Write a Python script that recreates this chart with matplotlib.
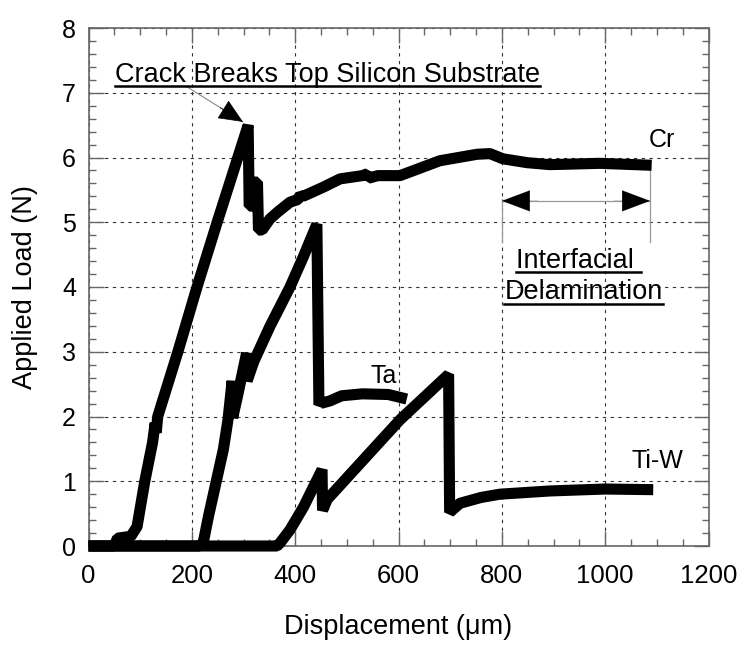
import matplotlib
matplotlib.use("Agg")
import matplotlib.pyplot as plt
from matplotlib.lines import Line2D
from matplotlib.ticker import MultipleLocator

plt.rcParams['font.family'] = ['Liberation Sans', 'DejaVu Sans']

# ---------------- data ----------------
cr_x = [0, 50, 56, 82, 94, 109, 124, 129, 131, 134, 173, 210, 249, 289, 309,
        311, 318, 320, 327, 329, 336, 351, 365, 390, 405, 410, 415, 454, 487,
        530, 540, 542, 560, 603, 680, 752, 777, 802, 849, 893, 990, 1090]
cr_y = [0, 0, 0.12, 0.15, 0.3, 1.0, 1.6, 1.9, 1.75, 2.0, 3.0, 4.0, 5.0, 6.0, 6.5,
        5.25, 5.25, 5.62, 5.62, 4.88, 4.88, 5.05, 5.15, 5.31, 5.35, 5.42, 5.4, 5.54, 5.67,
        5.72, 5.75, 5.68, 5.72, 5.72, 5.95, 6.05, 6.06, 5.98, 5.92, 5.89, 5.91, 5.88]

ta_x = [0, 215, 222, 232, 261, 270, 278, 279, 288, 306, 307, 320, 351, 390, 416,
        442, 446, 448, 467, 490, 530, 580, 616]
ta_y = [0, 0, 0.05, 0.45, 1.49, 1.95, 2.55, 1.98, 2.3, 2.98, 2.55, 2.85, 3.39, 4.0, 4.47,
        4.97, 2.18, 2.2, 2.24, 2.32, 2.35, 2.34, 2.27]

tiw_x = [0, 365, 371, 390, 416, 452, 453, 462, 603, 697, 699, 719, 760, 796, 893, 1000, 1093]
tiw_y = [0, 0, 0.05, 0.25, 0.6, 1.18, 0.55, 0.72, 1.95, 2.65, 0.52, 0.66, 0.75, 0.8, 0.85, 0.88, 0.87]

x_ticks = [0, 200, 400, 600, 800, 1000, 1200]
y_ticks = [0, 1, 2, 3, 4, 5, 6, 7, 8]

# ---------------- figure ----------------
fig = plt.figure(figsize=(7.5, 6.47), dpi=100)
ax = fig.add_axes([88.5 / 750, 101 / 647, 620 / 750, 518 / 647])
ax.set_xlim(0, 1200)
ax.set_ylim(0, 8)

frame_c = '#666666'
for s in ax.spines.values():
    s.set_color(frame_c)
    s.set_linewidth(1.2)

ax.set_xticks(x_ticks)
ax.set_yticks(y_ticks)
ax.xaxis.set_minor_locator(MultipleLocator(50))
ax.yaxis.set_minor_locator(MultipleLocator(0.2))
ax.tick_params(which='both', direction='in', top=True, right=True, color=frame_c, width=1.0)
ax.tick_params(which='major', length=11)
ax.tick_params(which='minor', length=5)
ax.tick_params(axis='x', which='major', labelsize=18.5, pad=13)
ax.tick_params(axis='y', which='major', labelsize=18, pad=9)

ax.grid(True, which='major', color='#333333', linestyle=(0, (3, 4)), linewidth=0.8)
ax.set_axisbelow(True)

ax.set_xlabel('Displacement (\u03bcm)', fontsize=19.5, labelpad=19)
ax.set_ylabel('Applied Load (N)', fontsize=19.5, labelpad=17)

lw = 8
for xs, ys in [(tiw_x, tiw_y), (ta_x, ta_y), (cr_x, cr_y)]:
    ax.plot(xs, ys, color='black', lw=lw, solid_joinstyle='bevel',
            solid_capstyle='butt', clip_on=False, zorder=3)

# curve labels
ax.text(1110, 6.16, 'Cr', fontsize=18, ha='center', va='baseline')
ax.text(572, 2.52, 'Ta', fontsize=18, ha='center', va='baseline')
ax.text(1102, 1.21, 'Ti-W', fontsize=18, ha='center', va='baseline')

# annotations
t1 = ax.text(51, 7.17, 'Crack Breaks Top Silicon Substrate', fontsize=19.5,
             ha='left', va='baseline')
t2 = ax.text(948, 4.30, 'Interfacial ', fontsize=19.5, ha='center', va='baseline')
t3 = ax.text(958, 3.81, 'Delamination', fontsize=19.5, ha='center', va='baseline')

# crack arrow: grey shaft with black head
ax.annotate('', xy=(299, 6.55), xytext=(191, 7.09),
            arrowprops=dict(arrowstyle='-', color='#888888', lw=0.8,
                            shrinkA=0, shrinkB=0))
ax.annotate('', xy=(299, 6.55), xytext=(255, 6.77),
            arrowprops=dict(arrowstyle='-|>,head_length=1.6,head_width=0.7',
                            color='black', lw=0.5, shrinkA=0, shrinkB=0))

# interfacial delamination double arrow
arr_y = 5.33
ax.plot([800, 800], [4.69, 5.36], color='#999999', lw=0.9, zorder=2)
ax.plot([1087, 1087], [4.69, 5.88], color='#999999', lw=0.9, zorder=2)
ax.plot([800, 1087], [arr_y, arr_y], color='#999999', lw=0.9, zorder=2)
ax.annotate('', xy=(800, arr_y), xytext=(870, arr_y),
            arrowprops=dict(arrowstyle='-|>,head_length=2.0,head_width=0.75',
                            color='black', lw=0.1, shrinkA=0, shrinkB=0))
ax.annotate('', xy=(1087, arr_y), xytext=(1017, arr_y),
            arrowprops=dict(arrowstyle='-|>,head_length=2.0,head_width=0.75',
                            color='black', lw=0.1, shrinkA=0, shrinkB=0))

# underlines
fig.canvas.draw()
renderer = fig.canvas.get_renderer()
W, H = fig.bbox.width, fig.bbox.height
for t, off in [(t1, 4), (t2, 4), (t3, 5)]:
    bb = t.get_window_extent(renderer)
    xb, yb = ax.transData.transform(t.get_position())
    yl = (yb - off) / H
    fig.add_artist(Line2D([bb.x0 / W, bb.x1 / W], [yl, yl],
                          transform=fig.transFigure, color='black', lw=1.8))

fig.savefig('out.png', dpi=100)
